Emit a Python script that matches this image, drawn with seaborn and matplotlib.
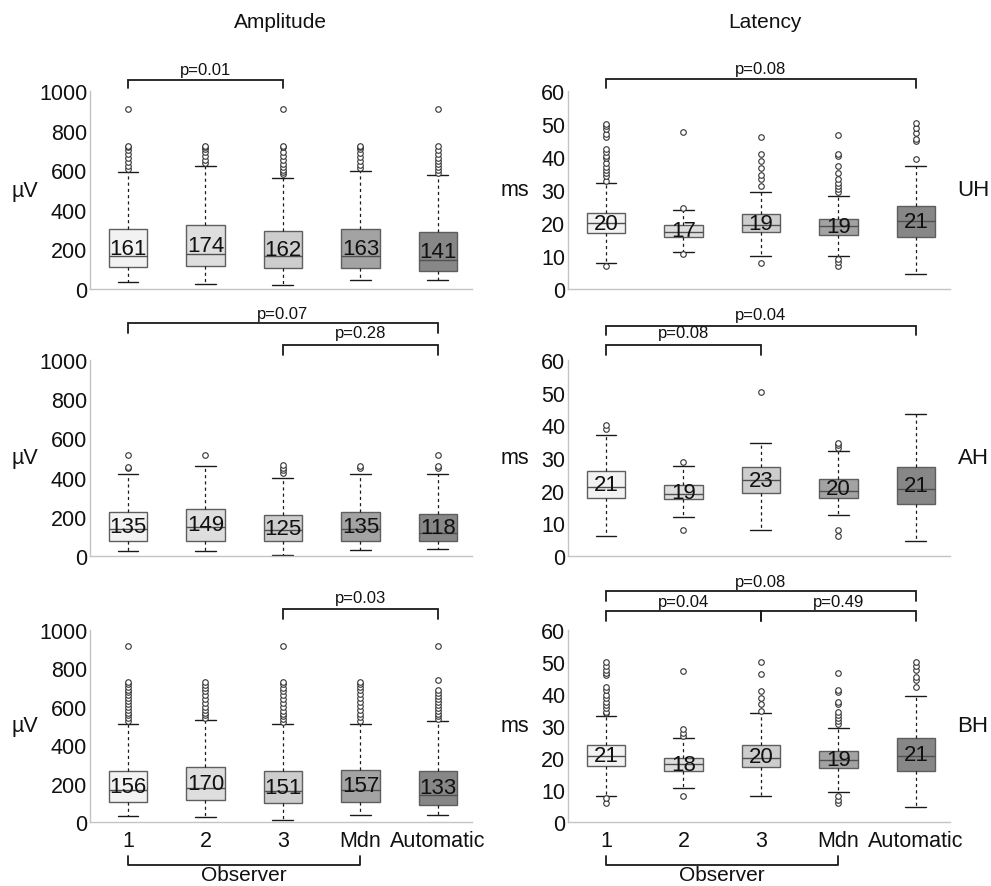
import numpy as np
import pandas as pd
import matplotlib
matplotlib.use("Agg")
import matplotlib.pyplot as plt
import matplotlib.transforms as mtransforms
import seaborn as sns

sns.set_style("white")
plt.rcParams['font.family'] = ['Liberation Sans', 'DejaVu Sans']

# ---------------- data ----------------
GROUPS = ["1", "2", "3", "Mdn", "Automatic"]
BOX_COLORS = ["#f2f2f2", "#dedede", "#cdcdcd", "#a3a3a3", "#878787"]
ROWS = ["UH", "AH", "BH"]

# Amplitude, UH
AMP_UH_Q1 = [110, 115, 105, 108, 91]
AMP_UH_MED = [166, 179, 166, 166, 145]
AMP_UH_Q3 = [301, 323, 291, 301, 286]
AMP_UH_LO = [34, 24, 20, 44, 44]
AMP_UH_HI = [589, 623, 562, 594, 574]
AMP_UH_LABELS = [161, 174, 162, 163, 141]
AMP_UH_OUT = [
    [605, 620, 640, 660, 680, 700, 715, 724, 910],
    [635, 650, 670, 690, 705, 715, 724],
    [580, 590, 600, 615, 630, 650, 670, 690, 715, 724, 910],
    [610, 625, 645, 665, 685, 705, 715, 724],
    [585, 600, 615, 630, 645, 660, 680, 700, 724, 910],
]

# Latency, UH
LAT_UH_Q1 = [16.9, 15.9, 17.3, 16.5, 15.8]
LAT_UH_MED = [20.0, 17.4, 19.3, 19.1, 20.6]
LAT_UH_Q3 = [23.0, 19.3, 22.7, 21.3, 25.3]
LAT_UH_LO = [7.8, 11.2, 9.9, 9.9, 4.4]
LAT_UH_HI = [32.0, 24.0, 29.5, 28.2, 37.4]
LAT_UH_LABELS = [20, 17, 19, 19, 21]
LAT_UH_OUT = [
    [7.0, 32.8, 34.1, 35.1, 36.1, 37.1, 38.1, 39.7, 40.4, 41.4, 42.4, 46.2, 46.9, 48.5, 49.3, 50.0],
    [10.6, 24.6, 47.6],
    [7.9, 31.2, 33.3, 34.6, 36.8, 38.8, 40.9, 46.2],
    [7.1, 8.1, 9.2, 29.5, 30.3, 31.2, 32.0, 33.4, 35.1, 37.3, 40.2, 40.9, 46.7],
    [39.5, 44.7, 45.5, 47.4, 48.8, 50.2],
]

# Amplitude, AH
AMP_AH_Q1 = [78, 78, 75, 78, 75]
AMP_AH_MED = [140, 150, 131, 140, 119]
AMP_AH_Q3 = [227, 242, 208, 227, 213]
AMP_AH_LO = [26, 26, 3, 31, 34]
AMP_AH_HI = [417, 460, 400, 417, 417]
AMP_AH_LABELS = [135, 149, 125, 135, 118]
AMP_AH_OUT = [
    [448, 455, 516],
    [516],
    [421, 438, 451, 463],
    [448, 460],
    [448, 460, 516],
]

# Latency, AH
LAT_AH_Q1 = [17.9, 17.3, 19.2, 17.9, 15.9]
LAT_AH_MED = [21.1, 19.1, 23.4, 19.9, 20.6]
LAT_AH_Q3 = [26.0, 21.7, 27.3, 23.6, 27.2]
LAT_AH_LO = [6.0, 12.0, 8.1, 12.6, 4.6]
LAT_AH_HI = [37.1, 27.4, 34.7, 32.1, 43.4]
LAT_AH_LABELS = [21, 19, 23, 20, 21]
LAT_AH_OUT = [
    [39.0, 40.2],
    [8.1, 28.7],
    [50.1],
    [6.1, 8.1, 33.0, 34.0, 34.7],
    [],
]

# Amplitude, BH
AMP_BH_Q1 = [102, 112, 97, 105, 90]
AMP_BH_MED = [166, 178, 161, 169, 141]
AMP_BH_Q3 = [266, 285, 266, 271, 266]
AMP_BH_LO = [32, 27, 8, 34, 37]
AMP_BH_HI = [512, 530, 512, 512, 525]
AMP_BH_LABELS = [156, 170, 151, 157, 133]
AMP_BH_OUT = [
    [525, 540, 555, 570, 585, 600, 615, 630, 645, 660, 675, 690, 705, 720, 730, 915],
    [540, 555, 570, 585, 600, 620, 640, 660, 680, 700, 715, 730],
    [520, 535, 550, 565, 580, 600, 620, 640, 660, 680, 700, 720, 730, 915],
    [525, 545, 565, 585, 605, 625, 645, 665, 685, 705, 720, 730],
    [535, 550, 565, 580, 595, 610, 625, 640, 655, 670, 685, 737, 915],
]

# Latency, BH
LAT_BH_Q1 = [17.5, 15.9, 17.2, 16.8, 16.0]
LAT_BH_MED = [20.6, 18.1, 20.1, 19.4, 20.7]
LAT_BH_Q3 = [24.1, 19.9, 24.0, 22.1, 26.1]
LAT_BH_LO = [8.1, 10.7, 8.1, 9.4, 4.6]
LAT_BH_HI = [33.0, 26.1, 34.0, 29.4, 39.4]
LAT_BH_LABELS = [21, 18, 20, 19, 21]
LAT_BH_OUT = [
    [5.8, 7.4, 34.0, 34.5, 35.5, 36.6, 37.6, 38.8, 39.8, 41.1, 42.3, 45.9, 46.5, 47.6, 48.9, 50.0],
    [8.1, 27.0, 27.8, 29.0, 47.3],
    [34.8, 36.8, 38.8, 40.8, 46.1, 50.0],
    [5.8, 7.0, 8.1, 30.5, 31.5, 32.5, 33.5, 34.5, 36.9, 37.4, 40.6, 41.1, 46.5],
    [42.1, 44.3, 45.3, 47.6, 48.9, 50.0],
]

# significance brackets: (from group, to group, p label)
AMP_UH_SIG = [(0, 2, "p=0.01")]
LAT_UH_SIG = [(0, 4, "p=0.08")]
AMP_AH_SIG = [(0, 4, "p=0.07"), (2, 4, "p=0.28")]
LAT_AH_SIG = [(0, 4, "p=0.04"), (0, 2, "p=0.08")]
AMP_BH_SIG = [(2, 4, "p=0.03")]
LAT_BH_SIG = [(0, 4, "p=0.08"), (0, 2, "p=0.04"), (2, 4, "p=0.49")]

AMP_TICKS = [0, 200, 400, 600, 800, 1000]
LAT_TICKS = [0, 10, 20, 30, 40, 50, 60]

# ---------------- layout ----------------
W, H = 991, 887
fig = plt.figure(figsize=(W / 100, H / 100), dpi=100)

COL_X = [90, 568]          # left edge of axes in px
COL_W = 382
ROW_Y = [(92, 290), (361, 557), (631, 823)]   # top, bottom in px

# bracket vertical placement in axes fraction: (line, drop, text)
SIG_Y = {
    (0, 0): [(1.056, 1.015, 1.111)],
    (0, 1): [(1.061, 1.015, 1.116)],
    (1, 0): [(1.189, 1.138, 1.235), (1.077, 1.026, 1.138)],
    (1, 1): [(1.173, 1.128, 1.230), (1.077, 1.026, 1.138)],
    (2, 0): [(1.109, 1.057, 1.167)],
    (2, 1): [(1.203, 1.151, 1.255), (1.099, 1.047, 1.151), (1.099, 1.047, 1.151)],
}

panels = {
    (0, 0): (AMP_UH_Q1, AMP_UH_MED, AMP_UH_Q3, AMP_UH_LO, AMP_UH_HI, AMP_UH_LABELS, AMP_UH_OUT, AMP_UH_SIG),
    (0, 1): (LAT_UH_Q1, LAT_UH_MED, LAT_UH_Q3, LAT_UH_LO, LAT_UH_HI, LAT_UH_LABELS, LAT_UH_OUT, LAT_UH_SIG),
    (1, 0): (AMP_AH_Q1, AMP_AH_MED, AMP_AH_Q3, AMP_AH_LO, AMP_AH_HI, AMP_AH_LABELS, AMP_AH_OUT, AMP_AH_SIG),
    (1, 1): (LAT_AH_Q1, LAT_AH_MED, LAT_AH_Q3, LAT_AH_LO, LAT_AH_HI, LAT_AH_LABELS, LAT_AH_OUT, LAT_AH_SIG),
    (2, 0): (AMP_BH_Q1, AMP_BH_MED, AMP_BH_Q3, AMP_BH_LO, AMP_BH_HI, AMP_BH_LABELS, AMP_BH_OUT, AMP_BH_SIG),
    (2, 1): (LAT_BH_Q1, LAT_BH_MED, LAT_BH_Q3, LAT_BH_LO, LAT_BH_HI, LAT_BH_LABELS, LAT_BH_OUT, LAT_BH_SIG),
}

SPINE_C = "#c4c4c4"
LINE_C = "#1a1a1a"

for (r, c), (q1, med, q3, lo, hi, labels, outs, sigs) in panels.items():
    top, bot = ROW_Y[r]
    ax = fig.add_axes([COL_X[c] / W, 1 - bot / H, COL_W / W, (bot - top) / H])

    # outliers through seaborn
    df = pd.DataFrame({
        "group": [GROUPS[i] for i in range(5) for _ in outs[i]],
        "value": [v for o in outs for v in o],
    })
    sns.stripplot(data=df, x="group", y="value", order=GROUPS, jitter=False,
                  size=4.0, color="white", edgecolor="#333333", linewidth=0.8,
                  ax=ax, zorder=4)

    stats = [dict(q1=q1[i], med=med[i], q3=q3[i], whislo=lo[i], whishi=hi[i], fliers=[])
             for i in range(5)]
    bp = ax.bxp(stats, positions=range(5), widths=0.5, capwidths=0.27,
                patch_artist=True, showfliers=False, manage_ticks=False,
                boxprops=dict(edgecolor="#5e5e5e", linewidth=1.0),
                medianprops=dict(color="#505050", linewidth=1.0),
                whiskerprops=dict(color=LINE_C, linewidth=0.9, linestyle=(0, (2.5, 2.5))),
                capprops=dict(color=LINE_C, linewidth=1.0))
    for patch, col in zip(bp["boxes"], BOX_COLORS):
        patch.set_facecolor(col)

    for i in range(5):
        ax.text(i, (q1[i] + q3[i]) / 2, str(labels[i]), ha="center", va="center",
                fontsize=16, color="#111111", zorder=5)

    ticks = AMP_TICKS if c == 0 else LAT_TICKS
    ax.set_ylim(0, ticks[-1])
    ax.set_yticks(ticks)
    ax.set_xlim(-0.49, 4.44)
    ax.set_xticks(range(5))
    ax.set_xlabel("")
    ax.set_ylabel("")
    if r == 2:
        ax.set_xticklabels(GROUPS)
    else:
        ax.set_xticklabels([])
    ax.tick_params(axis="y", direction="in", length=2.5, width=0.8, color="#9a9a9a",
                   pad=2, labelsize=15.5, labelcolor="#111111")
    ax.tick_params(axis="x", length=0, pad=6, labelsize=15.5, labelcolor="#111111")
    sns.despine(ax=ax)
    for s in ("left", "bottom"):
        ax.spines[s].set_color(SPINE_C)
        ax.spines[s].set_linewidth(1.0)

    # significance brackets
    trans = mtransforms.blended_transform_factory(ax.transData, ax.transAxes)
    for (a, b, lab), (yl, yd, yt) in zip(sigs, SIG_Y[(r, c)]):
        ax.plot([a, a, b, b], [yd, yl, yl, yd], color=LINE_C, lw=1.3,
                transform=trans, clip_on=False, solid_joinstyle="miter")
        ax.text((a + b) / 2, yt, lab, ha="center", va="center", fontsize=12,
                color="#111111", transform=trans)

    # unit labels
    mid_y = 1 - (top + bot) / 2 / H
    if c == 0:
        fig.text(25 / W, mid_y, "µV", ha="center", va="center", fontsize=15.5, color="#111111")
    else:
        fig.text(515 / W, mid_y, "ms", ha="center", va="center", fontsize=15.5, color="#111111")
        fig.text(973 / W, mid_y, ROWS[r], ha="center", va="center", fontsize=16, color="#111111")

    # observer bracket under the bottom row
    if r == 2:
        ax.plot([0, 0, 3, 3], [-0.177, -0.224, -0.224, -0.177], color=LINE_C, lw=1.3,
                transform=trans, clip_on=False)
        ax.text(1.5, -0.272, "Observer", ha="center", va="center", fontsize=15,
                color="#111111", transform=trans)

fig.text(280 / W, 1 - 22 / H, "Amplitude", ha="center", va="center", fontsize=15, color="#111111")
fig.text(765 / W, 1 - 22 / H, "Latency", ha="center", va="center", fontsize=15, color="#111111")

fig.savefig("out.png", dpi=100, facecolor="white")
